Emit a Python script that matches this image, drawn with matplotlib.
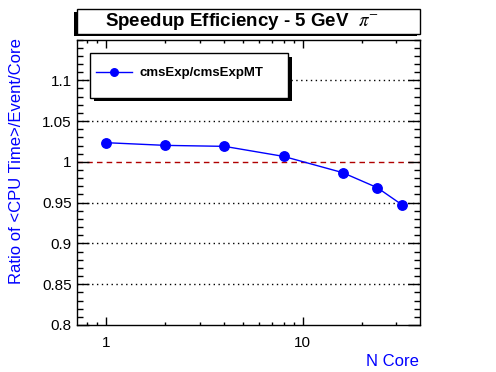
import matplotlib
matplotlib.use("Agg")
import matplotlib.pyplot as plt
from matplotlib.patches import Rectangle
from matplotlib.ticker import FixedLocator, MultipleLocator, NullFormatter, FixedFormatter

plt.rcParams['font.family'] = ['Liberation Sans', 'DejaVu Sans']
plt.rcParams['mathtext.fontset'] = 'stix'

# data
n_core = [1, 2, 4, 8, 16, 24, 32]
ratio = [1.0235, 1.0202, 1.0190, 1.0067, 0.9868, 0.9684, 0.9476]
series_label = "cmsExp/cmsExpMT"
y_major = [0.8, 0.85, 0.9, 0.95, 1.0, 1.05, 1.1]
y_labels = ["0.8", "0.85", "0.9", "0.95", "1", "1.05", "1.1"]
grid_levels = [0.85, 0.9, 0.95, 1.05, 1.1]
x_major = [1, 10]
x_labels = ["1", "10"]

W, H = 496, 372
fig = plt.figure(figsize=(W / 100, H / 100), dpi=100)
L, R, B, T = 76.7, 419.7, 325, 39.5
ax = fig.add_axes([L / W, 1 - B / H, (R - L) / W, (B - T) / H])

ax.set_xscale('log')
ax.set_xlim(0.707, 39.5)
ax.set_ylim(0.8, 1.15)

for g in grid_levels:
    ax.axhline(g, color='black', lw=1.0, ls=(0, (1, 2.5)), zorder=1)
ax.axhline(1.0, color='#b00000', lw=1.0, ls=(0, (4, 3)), zorder=1)

line, = ax.plot(n_core, ratio, color='#0000ff', lw=1.0, marker='o', ms=6.8,
                mec='#0000ff', mfc='#0000ff', label=series_label, zorder=3)

# ticks
ax.yaxis.set_major_locator(FixedLocator(y_major))
ax.yaxis.set_major_formatter(FixedFormatter(y_labels))
ax.yaxis.set_minor_locator(MultipleLocator(0.01))
ax.xaxis.set_major_locator(FixedLocator(x_major))
ax.xaxis.set_major_formatter(FixedFormatter(x_labels))
ax.xaxis.set_minor_locator(FixedLocator([0.8, 0.9, 2, 3, 4, 5, 6, 7, 8, 9, 20, 30]))
ax.xaxis.set_minor_formatter(NullFormatter())
ax.tick_params(axis='both', which='both', direction='in', top=True, right=True,
               labelsize=11, colors='black', width=1.0)
ax.tick_params(axis='y', which='major', length=8.5, pad=3.5)
ax.tick_params(axis='y', which='minor', length=4.3)
ax.tick_params(axis='x', which='major', length=5.5, pad=8)
ax.tick_params(axis='x', which='minor', length=2.5)
for s in ax.spines.values():
    s.set_linewidth(1.0)

ax.set_ylabel("Ratio of <CPU Time>/Event/Core", color='#0000ff', fontsize=12, loc='top')
ax.yaxis.set_label_coords(17 / W, 1 - 38.3 / H, transform=fig.transFigure)
ax.yaxis.label.set_va('center')
ax.set_xlabel("N Core", color='#0000ff', fontsize=12, loc='right')
ax.xaxis.set_label_coords(419 / W, 1 - 362 / H, transform=fig.transFigure)
ax.xaxis.label.set_va('center')

# title box with shadow
def px_rect(x0, y0, x1, y1, **kw):
    return Rectangle((x0 / W, 1 - y1 / H), (x1 - x0) / W, (y1 - y0) / H,
                     transform=fig.transFigure, **kw)

fig.patches.append(px_rect(74.3, 11.8, 417.3, 36.3, facecolor='black', edgecolor='none', zorder=5))
fig.patches.append(px_rect(77, 9.3, 420, 33.8, facecolor='white', edgecolor='black', lw=1.0, zorder=6))
fig.text(242 / W, 1 - 22 / H, r"Speedup Efficiency - 5 GeV  $\pi^{-}$", ha='center', va='center',
         fontsize=13.5, fontweight='bold', zorder=7)

# legend box with shadow
fig.patches.append(px_rect(94, 56.5, 292.3, 101, facecolor='black', edgecolor='none', zorder=5))
fig.patches.append(px_rect(90, 53.3, 288, 98.3, facecolor='white', edgecolor='black', lw=1.0, zorder=6))
leg = fig.legend(handles=[line], labels=[series_label], loc='center left',
                 bbox_to_anchor=(96 / W, 1 - 73.3 / H),
                 bbox_transform=fig.transFigure, frameon=False, borderpad=0,
                 borderaxespad=0, handlelength=2.75, handletextpad=0.55,
                 markerscale=0.8, prop={'weight': 'bold', 'size': 9.5})
leg.set_zorder(8)

fig.savefig("out.png", dpi=100)
